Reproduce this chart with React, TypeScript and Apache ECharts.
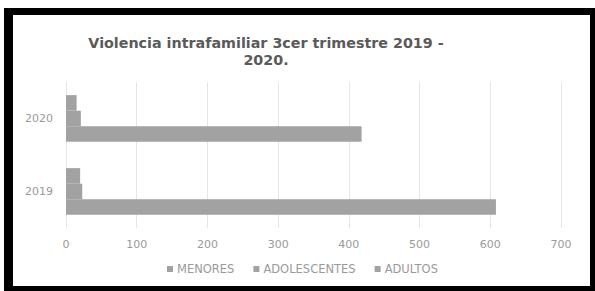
import React, { useEffect, useRef } from "react";
import * as echarts from "echarts";

const categories = ["2020", "2019"];
const menores = [15, 20];
const adolescentes = [21, 23];
const adultos = [418, 608];
const seriesNames = ["MENORES", "ADOLESCENTES", "ADULTOS"];
const titleText = "Violencia intrafamiliar 3cer trimestre 2019 -\n2020.";

export default function App() {
  const ref = useRef<HTMLDivElement>(null);
  useEffect(() => {
    if (!ref.current) return;
    const chart = echarts.init(ref.current, undefined, { renderer: "svg" });
    const barColor = "#a2a2a2";
    const values = [menores, adolescentes, adultos];
    chart.setOption({
      animation: false,
      backgroundColor: "#ffffff",
      title: {
        text: titleText,
        left: 253,
        top: 19,
        padding: 0,
        textAlign: "center",
        textStyle: {
          fontFamily: "DejaVu Sans",
          fontWeight: "bold",
          fontSize: 14.3,
          color: "#5a5a5a",
          lineHeight: 17.5,
        },
      },
      legend: {
        data: seriesNames,
        left: 154,
        top: 248,
        padding: 0,
        itemWidth: 6,
        itemHeight: 6,
        itemGap: 19,
        icon: "rect",
        textStyle: { fontFamily: "DejaVu Sans", fontSize: 11.5, color: "#9a9a9a", padding: [0, 0, 0, -1] },
      },
      grid: { left: 53, right: 29, top: 67, bottom: 58 },
      xAxis: {
        type: "value",
        min: 0,
        max: 700,
        interval: 100,
        axisLine: { show: false },
        axisTick: { show: false },
        splitLine: { lineStyle: { color: "#e6e6e6", width: 1 } },
        axisLabel: { fontFamily: "DejaVu Sans", fontSize: 11, color: "#9a9a9a", margin: 11 },
      },
      yAxis: {
        type: "category",
        data: categories,
        inverse: true,
        axisLine: { show: true, lineStyle: { color: "#e6e6e6" } },
        axisTick: { show: false },
        axisLabel: { fontFamily: "DejaVu Sans", fontSize: 11, color: "#9a9a9a", margin: 13 },
      },
      series: seriesNames.map((name, i) => ({
        name,
        type: "bar",
        data: values[i],
        itemStyle: { color: barColor },
        barGap: "0%",
        barCategoryGap: "36%",
      })),
    });
    return () => chart.dispose();
  }, []);
  return (
    <div style={{ position: "fixed", left: 0, top: 0, width: 595, height: 291, background: "#ffffff" }}>
      <div style={{ position: "absolute", left: 4, top: 8, width: 591, height: 283, background: "#000000" }} />
      <div
        ref={ref}
        style={{ position: "absolute", left: 13, top: 15, width: 577, height: 271, background: "#ffffff" }}
      />
    </div>
  );
}
